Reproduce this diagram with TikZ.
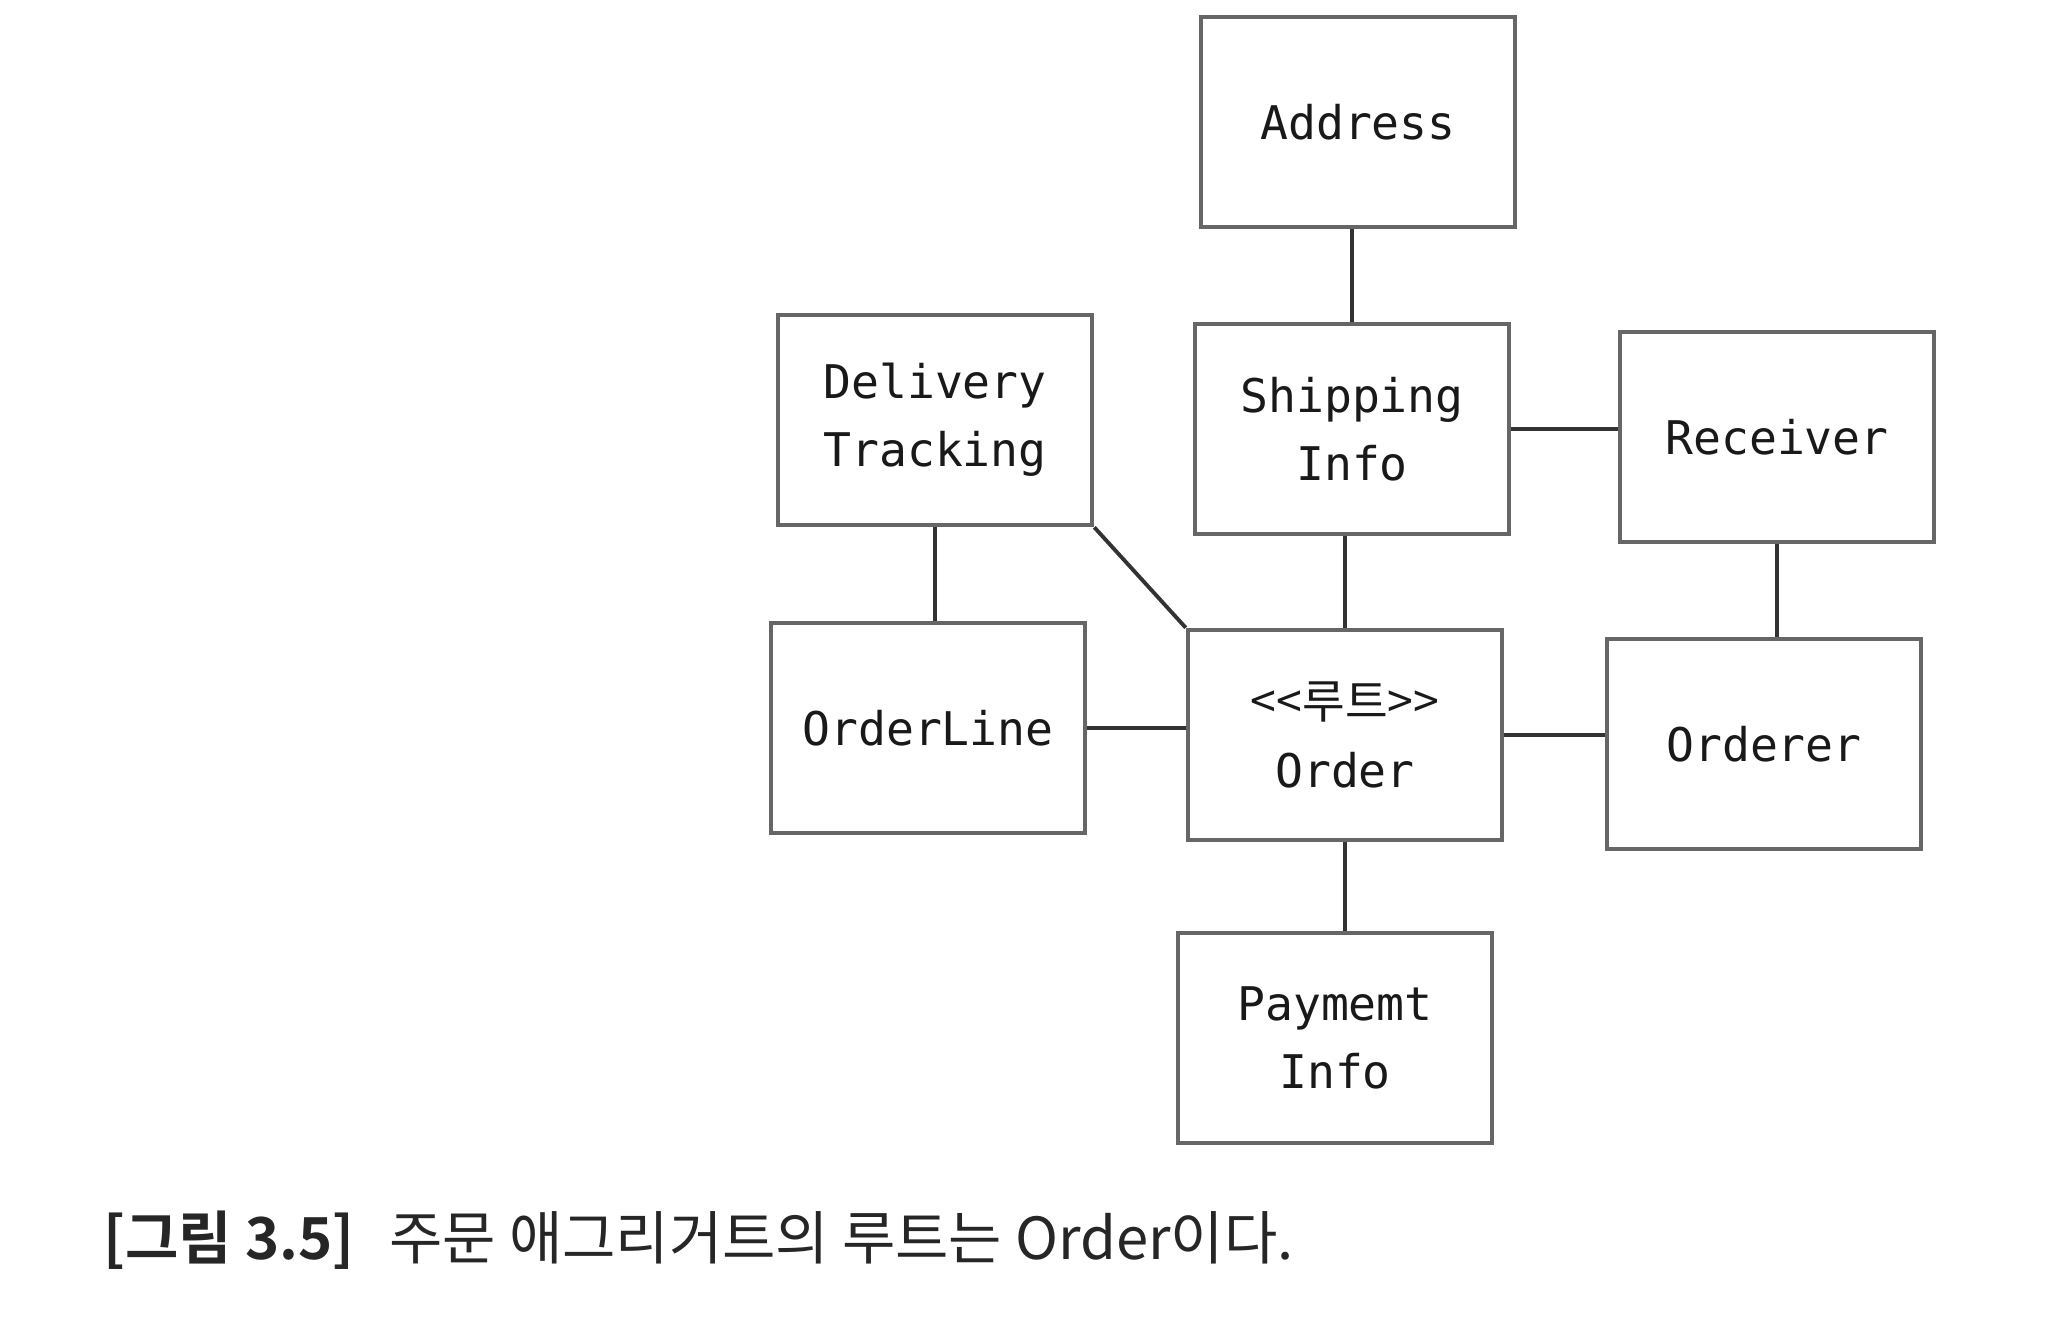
\documentclass[tikz,border=0pt]{standalone}
\usepackage{fontspec}
\setmonofont{DejaVu Sans Mono}
\newfontfamily\kr{Noto Sans CJK KR}
\newfontfamily\krbold{Noto Sans CJK KR Bold}
\begin{document}
\begin{tikzpicture}[x=0.1mm, y=-0.1mm,
    box/.style={draw=black!60, line width=1.3pt, fill=white,
        minimum width=31.4mm, minimum height=21mm, align=center,
        text=black!90, font=\ttfamily\fontsize{13.2}{19.4}\selectfont},
    link/.style={draw=black!80, line width=1.1pt}]
    \useasboundingbox[fill=white] (0,0) rectangle (2066,1320);
    % middle column
    \node[box] (address) at (1358,122) {Address};
    \node[box] (shipping) at (1352,429) {Shipping\\Info};
    \node[box] (order) at (1345,735) {{\kr <<루트>>}\\Order};
    \node[box] (payment) at (1335,1038) {Paymemt\\Info};
    % left and right
    \node[box] (delivery) at (935,420) {Delivery\\Tracking};
    \node[box] (orderline) at (928,728) {OrderLine};
    \node[box] (receiver) at (1777,437) {Receiver};
    \node[box] (orderer) at (1764,744) {Orderer};
    \draw[link] (shipping.north) -- (shipping.north |- address.south);
    \draw[link] (order.north) -- (order.north |- shipping.south);
    \draw[link] (order.south) -- (order.south |- payment.north);
    \draw[link] (delivery.south) -- (delivery.south |- orderline.north);
    \draw[link] (delivery.south east) -- (order.north west);
    \draw[link] (shipping.east) -- (shipping.east -| receiver.west);
    \draw[link] (receiver.south) -- (receiver.south |- orderer.north);
    \draw[link] (orderline.east) -- (orderline.east -| order.west);
    \draw[link] (order.east) -- (order.east -| orderer.west);
    \node[anchor=west, inner sep=0pt, text=black!85, font=\fontsize{16.5}{19}\selectfont] (caption) at (103,1240)
        {{\krbold [그림 3.5]}\hspace{0.6em}{\kr 주문 애그리거트의 루트는 Order이다.}};
\end{tikzpicture}
\end{document}
